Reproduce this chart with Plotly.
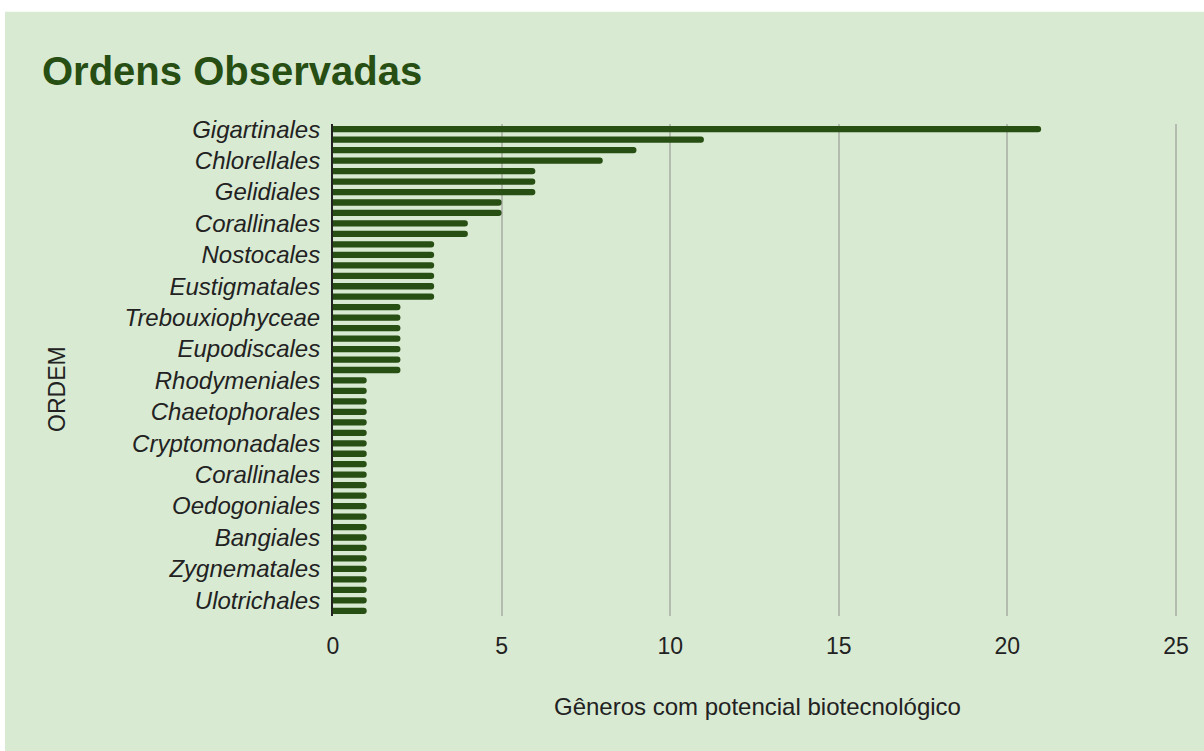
import plotly.graph_objects as go

# Número de gêneros com potencial biotecnológico por ordem (uma barra por ordem, de cima para baixo)
valores = [21, 11, 9, 8, 6, 6, 6, 5, 5, 4, 4,
           3, 3, 3, 3, 3, 3,
           2, 2, 2, 2, 2, 2, 2,
           1, 1, 1, 1, 1, 1, 1, 1, 1, 1, 1, 1, 1, 1, 1, 1, 1, 1, 1, 1, 1, 1, 1]

# Rótulos visíveis no eixo (um a cada 3 barras)
rotulos = ["Gigartinales", "Chlorellales", "Gelidiales", "Corallinales", "Nostocales",
           "Eustigmatales", "Trebouxiophyceae", "Eupodiscales", "Rhodymeniales",
           "Chaetophorales", "Cryptomonadales", "Corallinales", "Oedogoniales",
           "Bangiales", "Zygnematales", "Ulotrichales"]
passo_rotulo = 3

x_ticks = [0, 5, 10, 15, 20, 25]
titulo = "Ordens Observadas"
titulo_x = "Gêneros com potencial biotecnológico"
titulo_y = "ORDEM"

W, H = 1204, 751
L, R, T, B = 333, 26, 123.5, 134.5
PW, PH = W - L - R, H - T - B


def px_x(p):
    return (p - L) / PW


def px_y(p):
    return (H - B - p) / PH


BG = "#d9ead3"
BAR = "#274e13"
TXT = "#222222"
FONT = "Liberation Sans, Arial, sans-serif"

posicoes = list(range(len(valores)))

fig = go.Figure(go.Bar(
    x=valores,
    y=posicoes,
    orientation="h",
    marker=dict(color=BAR, line=dict(width=0)),
    hovertemplate="%{x}<extra></extra>",
))

fig.update_layout(
    width=W, height=H,
    margin=dict(l=L, r=R, t=T, b=B, pad=0),
    paper_bgcolor="white",
    plot_bgcolor="rgba(0,0,0,0)",
    bargap=0.4,
    barcornerradius=3,
    showlegend=False,
    font=dict(family=FONT, color=TXT),
    title=dict(
        text="<b>" + titulo + "</b>",
        font=dict(family=FONT, size=40, color=BAR),
        xref="container", yref="container",
        x=42 / W, xanchor="left",
        y=1 - 71 / H, yanchor="middle",
    ),
    shapes=[dict(
        type="rect", xref="paper", yref="paper", layer="below",
        x0=px_x(5), x1=px_x(W + 5), y0=px_y(H + 5), y1=px_y(11),
        fillcolor=BG, line=dict(width=0),
    )],
    annotations=[
        dict(text=titulo_x, xref="paper", yref="paper",
             x=px_x(757), y=px_y(707), xanchor="center", yanchor="middle",
             showarrow=False, font=dict(family=FONT, size=24, color=TXT)),
        dict(text=titulo_y, xref="paper", yref="paper",
             x=px_x(57), y=px_y(389), xanchor="center", yanchor="middle",
             textangle=-90, showarrow=False, font=dict(family=FONT, size=23, color=TXT)),
    ],
)

fig.update_xaxes(
    range=[0, x_ticks[-1] + 0.06],
    tickvals=x_ticks,
    showgrid=True, gridcolor="#b3bcae", gridwidth=2,
    zeroline=False, showline=False,
    ticks="", ticklabelstandoff=14,
    tickfont=dict(family=FONT, size=23, color=TXT),
    fixedrange=True,
)

fig.update_yaxes(
    range=[len(valores) - 0.5, -0.5],
    tickvals=posicoes[::passo_rotulo],
    ticktext=rotulos,
    showgrid=False, zeroline=False,
    showline=True, linecolor="#222222", linewidth=2,
    ticks="", ticklabelstandoff=6,
    tickfont=dict(family=FONT, size=24, color=TXT, style="italic"),
    fixedrange=True,
)

fig.write_html("out.html", config={"displayModeBar": False},
               post_script="document.body.style.margin='0';")
